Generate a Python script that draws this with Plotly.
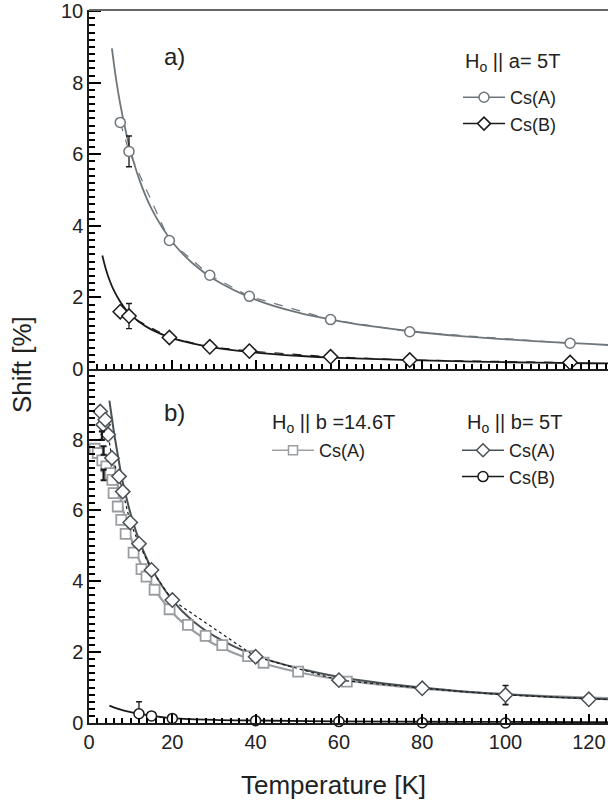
import plotly.graph_objects as go

FONT = "Liberation Sans, Arial, sans-serif"
TXT = "#222222"

# ---------------- panel a) data (H || a = 5T) ----------------
a_T = [7.5, 9.6, 19.3, 29.0, 38.5, 58.0, 77.0, 115.5]
a_csA = [6.89, 6.08, 3.59, 2.62, 2.03, 1.38, 1.04, 0.72]
a_csA_err = [None, 0.43, None, None, None, None, None, None]
a_csB = [1.60, 1.48, 0.88, 0.62, 0.50, 0.34, 0.25, 0.18]
a_csB_err = [None, 0.35, None, None, None, None, None, None]

# fit curves read off panel a)
a_fitA_T = [5.5, 6.5, 7.5, 9, 10, 12, 15, 20, 25, 30, 40, 50, 60, 70, 80, 90, 100, 110, 120, 124.6]
a_fitA = [8.96, 8.10, 7.40, 6.55, 6.08, 5.32, 4.48, 3.55, 2.94, 2.51, 1.94, 1.58, 1.34, 1.16, 1.02, 0.91, 0.83, 0.76, 0.70, 0.67]
a_fitB_T = [3.2, 4, 5, 6, 7.5, 9, 10, 12, 15, 20, 25, 30, 40, 50, 60, 80, 100, 120, 124.6]
a_fitB = [3.17, 2.81, 2.46, 2.19, 1.88, 1.64, 1.52, 1.32, 1.10, 0.86, 0.71, 0.60, 0.46, 0.37, 0.31, 0.24, 0.19, 0.16, 0.155]

# ---------------- panel b) data ----------------
# H || b = 14.6T, Cs(A)
b146_T = [1.35, 2.1, 3.2, 4.15, 5.1, 5.6, 5.9, 6.9, 7.75, 8.8, 10.7, 12.6, 13.8, 15.75,
          19.35, 23.75, 28.0, 32.0, 38.2, 41.9, 50.2, 61.9]
b146_csA = [7.74, 7.62, 7.41, 7.24, 7.05, 6.86, 6.49, 6.11, 5.73, 5.34, 4.81, 4.34, 4.13, 3.76,
            3.21, 2.77, 2.46, 2.20, 1.89, 1.70, 1.45, 1.17]
# H || b = 5T
b5_T = [2.7, 3.4, 3.9, 4.6, 5.5, 7.2, 8.1, 9.9, 12, 15, 20, 40, 60, 80, 100, 120, 140]
b5_csA = [8.79, 8.42, 8.56, 8.14, 7.48, 6.96, 6.53, 5.66, 5.06, 4.32, 3.47, 1.87, 1.21, 0.98, 0.79, 0.67, 0.58]
b5_csA_err = [None] * 14 + [0.27, None, None]
b5B_T = [12, 15, 20, 40, 60, 80, 100, 120]
b5_csB = [0.26, 0.20, 0.13, 0.065, 0.04, 0.01, 0.0, -0.02]
b5_csB_err = [0.34, None, None, None, None, None, None, None]
# isolated low-T error bars
bErr_T = [3.1, 3.5, 3.5]
bErr_val = [8.11, 7.69, 7.0]
bErr_err = [0.12, 0.12, 0.15]

# fit curves read off panel b)
b_fit5A_T = [4.9, 5.5, 6, 7, 8, 9, 10, 12, 15, 20, 25, 30, 40, 50, 60, 70, 80, 90, 100, 110, 120, 124.6]
b_fit5A = [9.10, 8.60, 8.20, 7.50, 6.85, 6.35, 5.90, 5.17, 4.37, 3.47, 2.87, 2.46, 1.90, 1.55, 1.30,
           1.13, 1.00, 0.89, 0.81, 0.74, 0.69, 0.67]
b_fit146_T = [6, 7, 8, 9, 10, 12, 15, 20, 25, 30, 40, 50, 60, 70, 80, 90, 100, 110, 120, 124.6]
b_fit146 = [7.29, 6.64, 6.10, 5.64, 5.25, 4.61, 3.91, 3.12, 2.60, 2.23, 1.75, 1.44, 1.23, 1.08,
            0.97, 0.88, 0.81, 0.76, 0.72, 0.70]
b_fitB_T = [4.9, 7, 10, 12, 15, 20, 30, 40, 60, 80, 100, 120, 124.6]
b_fitB = [0.49, 0.40, 0.31, 0.27, 0.20, 0.14, 0.09, 0.07, 0.045, 0.035, 0.03, 0.025, 0.025]

GRAY_A = "#6f767b"
BLACK = "#1a1a1a"
LIGHT = "#9a9ea2"
DARK = "#4a5155"
AX = "#000000"

fig = go.Figure()

# ---- panel a ----
fig.add_trace(go.Scatter(x=a_fitA_T, y=a_fitA, mode="lines", line=dict(color=GRAY_A, width=1.8, shape="spline"),
                         xaxis="x2", yaxis="y2", showlegend=False))
fig.add_trace(go.Scatter(x=a_fitB_T, y=a_fitB, mode="lines", line=dict(color=BLACK, width=1.8, shape="spline"),
                         xaxis="x2", yaxis="y2", showlegend=False))
fig.add_trace(go.Scatter(x=a_T, y=a_csA, mode="lines+markers", line=dict(color=GRAY_A, width=1.2, dash="dash"),
                         marker=dict(symbol="circle", size=10, color="white", line=dict(color=GRAY_A, width=1.5)),
                         error_y=dict(type="data", array=a_csA_err, color=BLACK, thickness=1.3, width=3),
                         xaxis="x2", yaxis="y2", showlegend=False, cliponaxis=False))
fig.add_trace(go.Scatter(x=a_T, y=a_csB, mode="lines+markers", line=dict(color=BLACK, width=1.2, dash="dash"),
                         marker=dict(symbol="diamond", size=11, color="white", line=dict(color=BLACK, width=1.5)),
                         error_y=dict(type="data", array=a_csB_err, color=BLACK, thickness=1.3, width=3),
                         xaxis="x2", yaxis="y2", showlegend=False, cliponaxis=False))

# ---- panel b ----
fig.add_trace(go.Scatter(x=b_fit146_T, y=b_fit146, mode="lines", line=dict(color=LIGHT, width=2.2, shape="spline"),
                         showlegend=False))
fig.add_trace(go.Scatter(x=b_fit5A_T, y=b_fit5A, mode="lines", line=dict(color=DARK, width=2.0, shape="spline"),
                         showlegend=False))
fig.add_trace(go.Scatter(x=b_fitB_T, y=b_fitB, mode="lines", line=dict(color=BLACK, width=1.8, shape="spline"),
                         showlegend=False))
fig.add_trace(go.Scatter(x=b146_T, y=b146_csA, mode="markers",
                         marker=dict(symbol="square", size=10, color="white", line=dict(color=LIGHT, width=1.8)),
                         showlegend=False, cliponaxis=False))
fig.add_trace(go.Scatter(x=b5_T, y=b5_csA, mode="lines+markers", line=dict(color=BLACK, width=1.2, dash="dot"),
                         marker=dict(symbol="diamond", size=11, color="white", line=dict(color=DARK, width=1.5)),
                         error_y=dict(type="data", array=b5_csA_err, color=BLACK, thickness=1.6, width=3),
                         showlegend=False, cliponaxis=False))
fig.add_trace(go.Scatter(x=b5B_T, y=b5_csB, mode="markers",
                         marker=dict(symbol="circle", size=10, color="white", line=dict(color=BLACK, width=1.5)),
                         error_y=dict(type="data", array=b5_csB_err, color=BLACK, thickness=1.3, width=3),
                         showlegend=False, cliponaxis=False))
fig.add_trace(go.Scatter(x=bErr_T, y=bErr_val, mode="markers", marker=dict(size=1, color="rgba(0,0,0,0)"),
                         error_y=dict(type="data", array=bErr_err, color=BLACK, thickness=2.2, width=3),
                         showlegend=False, cliponaxis=False))


# ---- legend entries ----
def leg(name, color, symbol, legend, msize):
    fig.add_trace(go.Scatter(x=[None], y=[None], mode="lines+markers", name=name, legend=legend,
                             line=dict(color=color, width=1.5),
                             marker=dict(symbol=symbol, size=msize, color="white", line=dict(color=color, width=1.5))))


leg("Cs(A)", GRAY_A, "circle", "legend", 10)
leg("Cs(B)", BLACK, "diamond", "legend", 10)
leg("Cs(A)", LIGHT, "square", "legend2", 9)
leg("Cs(A)", DARK, "diamond", "legend3", 10)
leg("Cs(B)", BLACK, "circle", "legend3", 10)

axis_common = dict(showline=True, linecolor="#1e1e1e", linewidth=1.5, showgrid=False, zeroline=False,
                   tickfont=dict(family=FONT, size=20, color=TXT))

legend_common = dict(font=dict(family=FONT, size=18, color=TXT), bgcolor="rgba(0,0,0,0)", borderwidth=0,
                     itemwidth=42, xref="paper", yref="paper", xanchor="left", yanchor="top",
                     tracegroupgap=0)


def px(xp):
    return (xp - 89) / 519


def py(yp):
    return (723 - yp) / 713


xmajor = dict(tick0=0, dtick=20, ticks="inside", ticklen=9, tickwidth=2, tickcolor=AX,
              minor=dict(dtick=2, ticklen=5, ticks="inside", tickcolor=AX, tickwidth=1.5))
ymajor = dict(tick0=0, dtick=2, ticks="inside", ticklen=12, tickwidth=2, tickcolor=AX,
              minor=dict(dtick=0.2, ticklen=6, ticks="inside", tickcolor=AX, tickwidth=1.5))

fig.update_layout(
    width=608, height=807, margin=dict(l=89, r=0, t=10, b=84, autoexpand=False),
    paper_bgcolor="white", plot_bgcolor="white",
    font=dict(family=FONT, color=TXT),
    xaxis=dict(**axis_common, **xmajor, range=[0, 124.6], domain=[0, 1], anchor="y"),
    xaxis2=dict(**axis_common, **xmajor, range=[0, 124.6], domain=[0, 1], anchor="y2", matches="x",
                showticklabels=False),
    yaxis=dict(**axis_common, **ymajor, range=[0, 9.99], domain=[0, 0.4965], anchor="x"),
    yaxis2=dict(**axis_common, **ymajor, range=[0, 10.03], domain=[0.4965, 1], anchor="x2"),
    legend=dict(**legend_common, x=px(458), y=py(79)),
    legend2=dict(**legend_common, x=px(267), y=py(432)),
    legend3=dict(**legend_common, x=px(457), y=py(432)),
    shapes=[dict(type="line", xref="paper", yref="paper", x0=0, x1=1, y0=1, y1=1,
                 line=dict(color="#666666", width=2))],
    annotations=[
        dict(text="Shift [%]", textangle=-90, xref="paper", yref="paper", x=px(22), y=py(365),
             showarrow=False, font=dict(family=FONT, size=26, color=TXT), xanchor="center", yanchor="middle"),
        dict(text="Temperature [K]", xref="paper", yref="paper", x=px(333), y=py(785),
             showarrow=False, font=dict(family=FONT, size=26, color=TXT), xanchor="center", yanchor="middle"),
        dict(text="a)", xref="paper", yref="paper", x=px(162), y=py(56), showarrow=False,
             font=dict(family=FONT, size=24, color=TXT), xanchor="left", yanchor="middle"),
        dict(text="b)", xref="paper", yref="paper", x=px(162), y=py(412), showarrow=False,
             font=dict(family=FONT, size=24, color=TXT), xanchor="left", yanchor="middle"),
        dict(text="H<sub>o</sub> || a= 5T", xref="paper", yref="paper", x=px(463), y=py(62),
             showarrow=False, font=dict(family=FONT, size=20, color=TXT), xanchor="left", yanchor="middle"),
        dict(text="H<sub>o</sub> || b =14.6T", xref="paper", yref="paper", x=px(270), y=py(423),
             showarrow=False, font=dict(family=FONT, size=20, color=TXT), xanchor="left", yanchor="middle"),
        dict(text="H<sub>o</sub> || b= 5T", xref="paper", yref="paper", x=px(465), y=py(423),
             showarrow=False, font=dict(family=FONT, size=20, color=TXT), xanchor="left", yanchor="middle"),
    ],
)

fig.write_html("out.html")
